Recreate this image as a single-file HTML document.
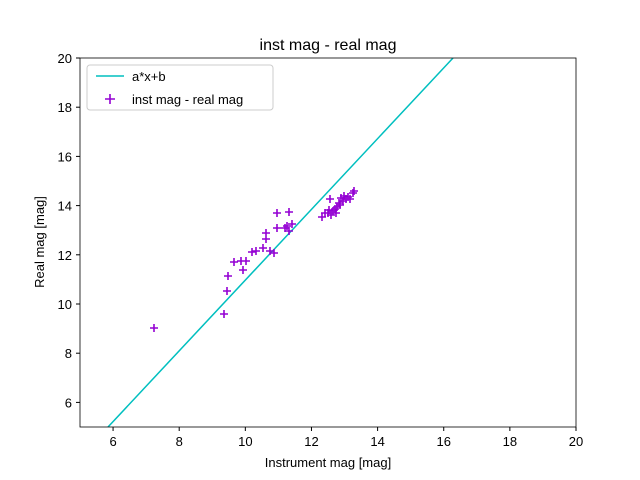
<!DOCTYPE html>
<html><head><meta charset="utf-8"><style>
body{margin:0;background:#fff;}
svg{display:block;font-family:"Liberation Sans","DejaVu Sans",sans-serif;}
</style></head><body>
<svg width="640" height="480" viewBox="0 0 640 480" xmlns="http://www.w3.org/2000/svg">
<rect width="640" height="480" fill="#fff"/>
<text x="328" y="50" font-size="16" text-anchor="middle">inst mag - real mag</text>
<defs><clipPath id="c"><rect x="80" y="58" width="496" height="369"/></clipPath></defs>
<line x1="108" y1="427" x2="453" y2="58" stroke="#00bfbf" stroke-width="1.5" clip-path="url(#c)"/>
<g stroke="#9400d3" stroke-width="1.6" id="pts"></g>
<rect x="80" y="58" width="496" height="369" fill="none" stroke="#000" stroke-width="0.8"/>
<g font-size="13" text-anchor="middle" id="xt"></g>
<g font-size="13" text-anchor="end" id="yt"></g>
<text x="328" y="467" font-size="13" text-anchor="middle">Instrument mag [mag]</text>
<text x="44" y="242" font-size="13" text-anchor="middle" transform="rotate(-90 44 242)">Real mag [mag]</text>
<rect x="87" y="65" width="186" height="45" rx="3" fill="#fff" fill-opacity="0.8" stroke="#ccc"/>
<line x1="96" y1="76" x2="124" y2="76" stroke="#00bfbf" stroke-width="1.5"/>
<text x="132" y="81" font-size="13">a*x+b</text>
<path d="M105 99h10M110 94v10" stroke="#9400d3" stroke-width="1.6"/>
<text x="132" y="104" font-size="13">inst mag - real mag</text>
</svg>
<script>
var p=[[154,328],[224,314],[227,291],[228,276],[234,262],[241,261],[246,261],[243,270],[252,252],[256,251],[263,248],[266,239],[266,233],[270,251],[274,253],[277,213],[277,228],[285,228],[289,212],[289,231],[292,224],[287,226],[322,217],[325,213],[328,213],[330,199],[331,215],[333,211],[335,209],[337,207],[340,205],[341,198],[343,201],[344,196],[346,199],[348,197],[350,199],[353,193],[354,191],[329,210],[336,213],[339,203]];
var ns="http://www.w3.org/2000/svg",g=document.getElementById('pts'),d="";
p.forEach(function(q){d+="M"+(q[0]-4)+" "+q[1]+"h8M"+q[0]+" "+(q[1]-4)+"v8";});
var e=document.createElementNS(ns,'path');e.setAttribute('d',d);g.appendChild(e);
var xt=document.getElementById('xt'),yt=document.getElementById('yt');
for(var v=6;v<=20;v+=2){var x=80+(v-5)*496/15;
var l=document.createElementNS(ns,'line');l.setAttribute('x1',x);l.setAttribute('x2',x);l.setAttribute('y1',427);l.setAttribute('y2',431);l.setAttribute('stroke','#000');xt.appendChild(l);
var t=document.createElementNS(ns,'text');t.setAttribute('x',x);t.setAttribute('y',446);t.textContent=v;xt.appendChild(t);
var y=427-(v-5)*369/15;
l=document.createElementNS(ns,'line');l.setAttribute('x1',76);l.setAttribute('x2',80);l.setAttribute('y1',y);l.setAttribute('y2',y);l.setAttribute('stroke','#000');yt.appendChild(l);
t=document.createElementNS(ns,'text');t.setAttribute('x',72);t.setAttribute('y',y+5);t.textContent=v;yt.appendChild(t);}
</script>
</body></html>
